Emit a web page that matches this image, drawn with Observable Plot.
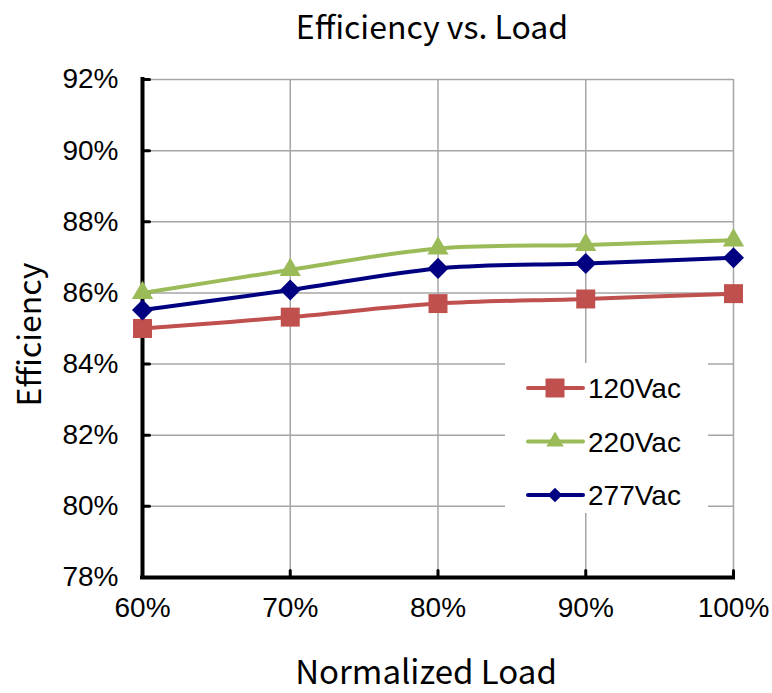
<!DOCTYPE html>
<html><head><meta charset="utf-8">
<script src="https://cdn.jsdelivr.net/npm/d3@7"></script>
<script src="https://cdn.jsdelivr.net/npm/@observablehq/plot@0.6"></script>
<style>
body{margin:0;background:#fff;}
#wrap{position:relative;width:772px;height:693px;}
#legend{position:absolute;left:505px;top:363px;width:203px;height:150px;background:#fff;}
</style></head><body><div id="wrap"><div id="legend"></div></div>
<script>
const loads = [60, 70, 80, 90, 100];
const s120 = [85.0, 85.32, 85.7, 85.83, 85.98];
const s220 = [86.0, 86.65, 87.25, 87.35, 87.48];
const s277 = [85.52, 86.08, 86.69, 86.83, 86.99];
const seriesNames = ["120Vac", "220Vac", "277Vac"];
const yTicks = [78, 80, 82, 84, 86, 88, 90, 92];
const xTicks = [60, 70, 80, 90, 100];
const colors = ["#C0504D", "#9BBB59", "#000080"];
const titleText = "Efficiency vs. Load";
const xTitle = "Normalized Load";
const yTitle = "Efficiency";

const values = [s120, s220, s277];
const rows = seriesNames.flatMap((s, k) => loads.map((l, i) => ({series: s, load: l, eff: values[k][i]})));

const diamond = {draw(ctx, size) { const h = Math.sqrt(size / 2); ctx.moveTo(0, -h); ctx.lineTo(h, 0); ctx.lineTo(0, h); ctx.lineTo(-h, 0); ctx.closePath(); }};
const symbols = ["square", "triangle", diamond];
const radii = [10.7, 7.9, 8.4];
const tickShape = {draw(ctx, l) { ctx.moveTo(0, 0); ctx.lineTo(0, -l); }};

const titleFont = "'Noto Sans CJK TC', 'Noto Sans', sans-serif";
const tickFont = "'Liberation Sans', Arial, sans-serif";

const marks = [
  Plot.gridX(xTicks, {stroke: "#a6a6a6", strokeOpacity: 1, strokeWidth: 1.5}),
  Plot.gridY(yTicks, {stroke: "#a6a6a6", strokeOpacity: 1, strokeWidth: 1.5}),
  Plot.ruleX([xTicks[0]], {stroke: "black", strokeWidth: 4, strokeLinecap: "square"}),
  Plot.ruleY([yTicks[0]], {stroke: "black", strokeWidth: 4, strokeLinecap: "square"}),
  Plot.vector(yTicks, {x: () => xTicks[0], y: d => d, length: 7, rotate: 90, anchor: "start", shape: tickShape, stroke: "black", strokeWidth: 3}),
  Plot.vector(xTicks, {x: d => d, y: () => yTicks[0], length: 7, rotate: 0, anchor: "start", shape: tickShape, stroke: "black", strokeWidth: 3}),
  Plot.axisY(yTicks, {tickSize: 0, tickPadding: 24, tickFormat: d => d + "%", fontSize: 28, fontFamily: tickFont, fill: "black", label: null}),
  Plot.axisX(xTicks, {tickSize: 0, tickPadding: 20, tickFormat: d => d + "%", fontSize: 28, fontFamily: tickFont, fill: "black", label: null}),
  Plot.text([titleText], {text: d => d, frameAnchor: "top", lineAnchor: "middle", textAnchor: "middle", dy: -51, dx: -6, fontSize: 32, fontFamily: titleFont, fill: "black"}),
  Plot.text([xTitle], {text: d => d, frameAnchor: "bottom", lineAnchor: "middle", textAnchor: "middle", dy: 96, dx: -12, fontSize: 33, fontFamily: titleFont, fill: "black"}),
  Plot.text([yTitle], {text: d => d, frameAnchor: "left", lineAnchor: "middle", textAnchor: "middle", dx: -112, dy: 6, rotate: -90, fontSize: 32, fontFamily: titleFont, fill: "black"})
];
seriesNames.forEach((s, k) => {
  const d = rows.filter(r => r.series === s);
  marks.push(Plot.line(d, {x: "load", y: "eff", stroke: colors[k], strokeWidth: 4, curve: "catmull-rom"}));
});
seriesNames.forEach((s, k) => {
  const d = rows.filter(r => r.series === s);
  marks.push(Plot.dot(d, {x: "load", y: "eff", fill: colors[k], stroke: "none", symbol: symbols[k], r: radii[k]}));
});

const chart = Plot.plot({
  width: 772, height: 693,
  marginLeft: 142, marginRight: 39, marginTop: 79, marginBottom: 116,
  x: {domain: [xTicks[0], xTicks[xTicks.length - 1]]},
  y: {domain: [yTicks[0], yTicks[yTicks.length - 1]]},
  style: {background: "white", overflow: "visible"},
  marks
});
const wrap = document.getElementById("wrap");
wrap.insertBefore(chart, wrap.firstChild);

// legend
const lsvg = d3.select("#legend").append("svg").attr("width", 203).attr("height", 150);
const symGen = [d3.symbol(d3.symbolSquare, Math.PI * radii[0] ** 2), d3.symbol(d3.symbolTriangle, Math.PI * radii[1] ** 2), d3.symbol(diamond, Math.PI * radii[2] ** 2)];
const legendSymScale = [1.0, 0.82, 0.7];
seriesNames.forEach((s, k) => {
  const g = lsvg.append("g").attr("transform", `translate(0,${25 + k * 53.5})`);
  g.append("line").attr("x1", 23).attr("x2", 78).attr("stroke", colors[k]).attr("stroke-width", 4).attr("stroke-linecap", "round");
  g.append("path").attr("d", symGen[k]()).attr("fill", colors[k]).attr("transform", `translate(50,0) scale(${legendSymScale[k]})`);
  g.append("text").attr("x", 83).attr("y", 0).attr("dy", "0.36em").attr("font-family", tickFont).attr("font-size", 28).attr("fill", "black").text(s);
});
</script></body></html>
